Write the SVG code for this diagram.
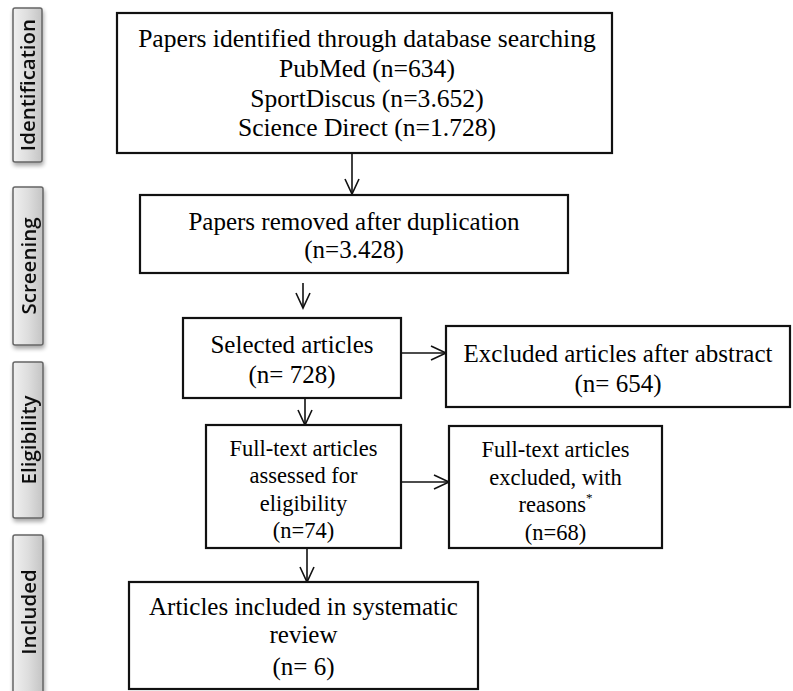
<svg xmlns="http://www.w3.org/2000/svg" width="793" height="691" viewBox="0 0 793 691">
<style>
.box{fill:#fff;stroke:#111;stroke-width:2.2}
.t{font-family:"Liberation Serif","Times New Roman",serif;font-size:25px;fill:#000;text-anchor:middle}
.tl{font-size:25.6px}
.ts{font-size:22.5px}
.side{stroke:#666;stroke-width:1.5;fill:url(#g)}
.sl{font-family:"Open Sans","Liberation Sans",sans-serif;font-size:20.5px;font-weight:600;fill:#111;text-anchor:middle}
.c{stroke:#111;stroke-width:1.6;fill:none;marker-end:url(#a)}
</style>
<defs>
<linearGradient id="g" x1="0" y1="0" x2="1" y2="0">
<stop offset="0" stop-color="#f0f0f0"/>
<stop offset="0.5" stop-color="#dedede"/>
<stop offset="1" stop-color="#c4c4c4"/>
</linearGradient>
<filter id="sh" x="-30%" y="-10%" width="160%" height="120%">
<feGaussianBlur in="SourceAlpha" stdDeviation="2"/>
<feOffset dx="1" dy="3"/>
<feComponentTransfer><feFuncA type="linear" slope="0.35"/></feComponentTransfer>
<feMerge><feMergeNode/><feMergeNode in="SourceGraphic"/></feMerge>
</filter>
<marker id="a" viewBox="0 0 20 20" refX="18" refY="10" markerWidth="20" markerHeight="20" markerUnits="userSpaceOnUse" orient="auto">
<polyline points="3,3 18,10 3,17" fill="none" stroke="#111" stroke-width="1.6"/>
</marker>
</defs>

<g id="stage-identification" filter="url(#sh)">
<rect class="side" x="13" y="8" width="29" height="154" rx="2"/>
<text class="sl" transform="translate(35,85) rotate(-90)">Identification</text>
</g>
<g id="stage-screening" filter="url(#sh)">
<rect class="side" x="13" y="187" width="30" height="158" rx="2"/>
<text class="sl" transform="translate(35.5,266) rotate(-90)">Screening</text>
</g>
<g id="stage-eligibility" filter="url(#sh)">
<rect class="side" x="13" y="362" width="30" height="156" rx="2"/>
<text class="sl" transform="translate(35.5,440) rotate(-90)">Eligibility</text>
</g>
<g id="stage-included" filter="url(#sh)">
<rect class="side" x="13" y="535" width="30" height="165" rx="2"/>
<text class="sl" transform="translate(35.5,612) rotate(-90)">Included</text>
</g>

<g id="connectors">
<line class="c" x1="352" y1="153" x2="352" y2="194"/>
<line class="c" x1="303" y1="283" x2="303" y2="308"/>
<line class="c" x1="401" y1="353" x2="446" y2="353"/>
<line class="c" x1="305" y1="398" x2="305" y2="425"/>
<line class="c" x1="401" y1="482" x2="449" y2="482"/>
<line class="c" x1="307" y1="548" x2="307" y2="582"/>
</g>

<g id="identified">
<rect class="box" x="117" y="13" width="495" height="140"/>
<text class="t tl" x="367" y="47">Papers identified through database searching</text>
<text class="t tl" x="367" y="77">PubMed (n=634)</text>
<text class="t tl" x="367" y="107">SportDiscus (n=3.652)</text>
<text class="t tl" x="367" y="136">Science Direct (n=1.728)</text>
</g>

<g id="removed">
<rect class="box" x="140" y="195" width="428" height="78"/>
<text class="t" x="354" y="230">Papers removed after duplication</text>
<text class="t" x="354" y="258">(n=3.428)</text>
</g>

<g id="selected">
<rect class="box" x="183" y="318" width="218" height="80"/>
<text class="t" x="292" y="353">Selected articles</text>
<text class="t" x="292" y="383">(n= 728)</text>
</g>

<g id="excluded-abstract">
<rect class="box" x="446" y="326" width="344" height="81"/>
<text class="t" x="618" y="362">Excluded articles after abstract</text>
<text class="t" x="618" y="392">(n= 654)</text>
</g>

<g id="fulltext">
<rect class="box" x="206" y="425" width="195" height="123"/>
<text class="t ts" x="303.5" y="456">Full-text articles</text>
<text class="t ts" x="303.5" y="483">assessed for</text>
<text class="t ts" x="303.5" y="511">eligibility</text>
<text class="t ts" x="303.5" y="538">(n=74)</text>
</g>

<g id="fulltext-excluded">
<rect class="box" x="449" y="426" width="213" height="122"/>
<text class="t ts" x="555.5" y="457">Full-text articles</text>
<text class="t ts" x="555.5" y="485">excluded, with</text>
<text class="t ts" x="555.5" y="512">reasons<tspan font-size="13" dy="-10">*</tspan></text>
<text class="t ts" x="555.5" y="540">(n=68)</text>
</g>

<g id="included">
<rect class="box" x="129" y="582" width="349" height="107"/>
<text class="t" x="303.5" y="615">Articles included in systematic</text>
<text class="t" x="303.5" y="643">review</text>
<text class="t" x="303.5" y="675">(n= 6)</text>
</g>
</svg>
